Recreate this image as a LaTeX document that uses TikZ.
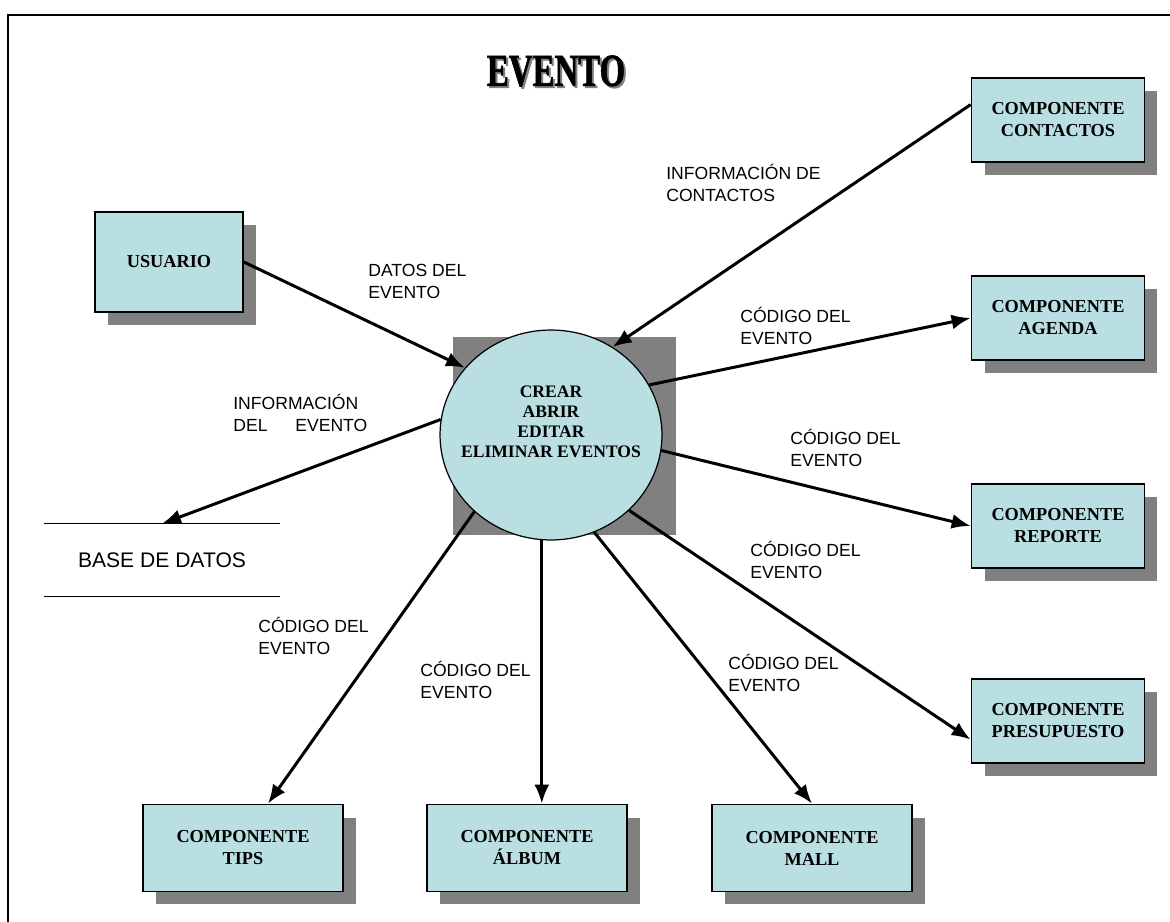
\documentclass[tikz,border=0pt]{standalone}
\usepackage{fontspec}
\setmainfont{Liberation Serif}
\newfontfamily\flowfont{Liberation Sans}
\newfontfamily\titlefont[FakeBold=1.5]{Liberation Serif Bold}
\usetikzlibrary{shapes,arrows.meta,shadows,positioning}
\definecolor{comp-cyan}{HTML}{B9DFE2}
\definecolor{comp-shadow}{HTML}{808080}

\begin{document}
\begin{tikzpicture}[x=0.02cm, y=-0.02cm,
  comp/.style={draw, line width=1pt, fill=comp-cyan, align=center, inner sep=2pt,
    font=\fontsize{10.4}{12.5}\selectfont\bfseries,
    general shadow={fill=comp-shadow, shadow xshift=0.26cm, shadow yshift=-0.26cm}},
  sidebox/.style={comp, minimum width=3.46cm, minimum height=1.68cm},
  lowbox/.style={comp, minimum width=4cm, minimum height=1.74cm},
  flow/.style={line width=1.7pt, -{Latex[length=0.38cm,width=0.3cm]}},
  flowlabel/.style={font=\flowfont\fontsize{10}{12.5}\selectfont, align=left, anchor=north west, inner sep=0pt}]
\useasboundingbox (0,0) rectangle (1170,922);
\draw [line width=1pt] (8,922) -- (8,15) -- (1170,15);

\node [text=comp-shadow, font=\titlefont\fontsize{26}{26}\selectfont] (titleshade) at (558,73) {\scalebox{0.72}[1]{EVENTO}};
\node [font=\titlefont\fontsize{26}{26}\selectfont] (title) at (556,71) {\scalebox{0.72}[1]{EVENTO}};

\node [comp, minimum width=2.96cm, minimum height=2cm] (usuario) at (169,262) {USUARIO};
\node [sidebox] (contactos) at (1058,120) {COMPONENTE\\CONTACTOS};
\node [sidebox] (agenda) at (1058,318) {COMPONENTE\\AGENDA};
\node [sidebox] (reporte) at (1058,526) {COMPONENTE\\REPORTE};
\node [sidebox] (presupuesto) at (1058,721) {COMPONENTE\\PRESUPUESTO};
\node [lowbox] (tips) at (243,848) {COMPONENTE\\TIPS};
\node [lowbox] (album) at (527,848) {COMPONENTE\\ÁLBUM};
\node [lowbox] (mall) at (812,848) {COMPONENTE\\MALL};

\fill [comp-shadow] (453,337) rectangle (676,535);
\node [draw, ellipse, fill=comp-cyan, line width=0.7pt, minimum width=4.44cm, minimum height=4.2cm, inner sep=0pt] (proc) at (551,435) {};
\node [font=\fontsize{10}{11.5}\selectfont\bfseries, align=center] (proctext) at (551,422) {CREAR\\ABRIR\\EDITAR\\ELIMINAR EVENTOS};

\node [font=\flowfont\fontsize{12}{14}\selectfont, minimum width=4.72cm, minimum height=1.44cm, inner sep=0pt] (base) at (162,560) {BASE DE DATOS};
\draw [line width=0.9pt] (base.north west) -- (base.north east);
\draw [line width=0.9pt] (base.south west) -- (base.south east);

\draw [flow] (usuario.east) -- (proc.142);
\draw [flow] (contactos.170) -- (proc.55);
\draw [flow] (proc.27) -- (agenda.west);
\draw [flow] (proc.-8) -- (reporte.west);
\draw [flow] (proc.-44) -- (presupuesto.192);
\draw [flow] (proc.-66) -- (mall.north);
\draw [flow] (proc.-95) -- (proc.-95 |- album.north);
\draw [flow] (proc.225) -- ([xshift=0.5cm]tips.north);
\draw [flow, {Latex[length=0.38cm,width=0.3cm]}-] (base.north) -- (proc.172);

\node [flowlabel] (lbdatos) at (368,264) {DATOS DEL\\EVENTO};
\node [flowlabel] (lbcontactos) at (666,164) {INFORMACIÓN DE\\CONTACTOS};
\node [flowlabel] (lbagenda) at (740,307) {CÓDIGO DEL\\EVENTO};
\node [flowlabel] (lbbase) at (233,394) {INFORMACIÓN\\DEL\hspace{0.46cm} EVENTO};
\node [flowlabel] (lbreporte) at (790,429) {CÓDIGO DEL\\EVENTO};
\node [flowlabel] (lbpresupuesto) at (750,541) {CÓDIGO DEL\\EVENTO};
\node [flowlabel] (lbtips) at (258,617) {CÓDIGO DEL\\EVENTO};
\node [flowlabel] (lbalbum) at (420,661) {CÓDIGO DEL\\EVENTO};
\node [flowlabel] (lbmall) at (728,654) {CÓDIGO DEL\\EVENTO};
\end{tikzpicture}
\end{document}
